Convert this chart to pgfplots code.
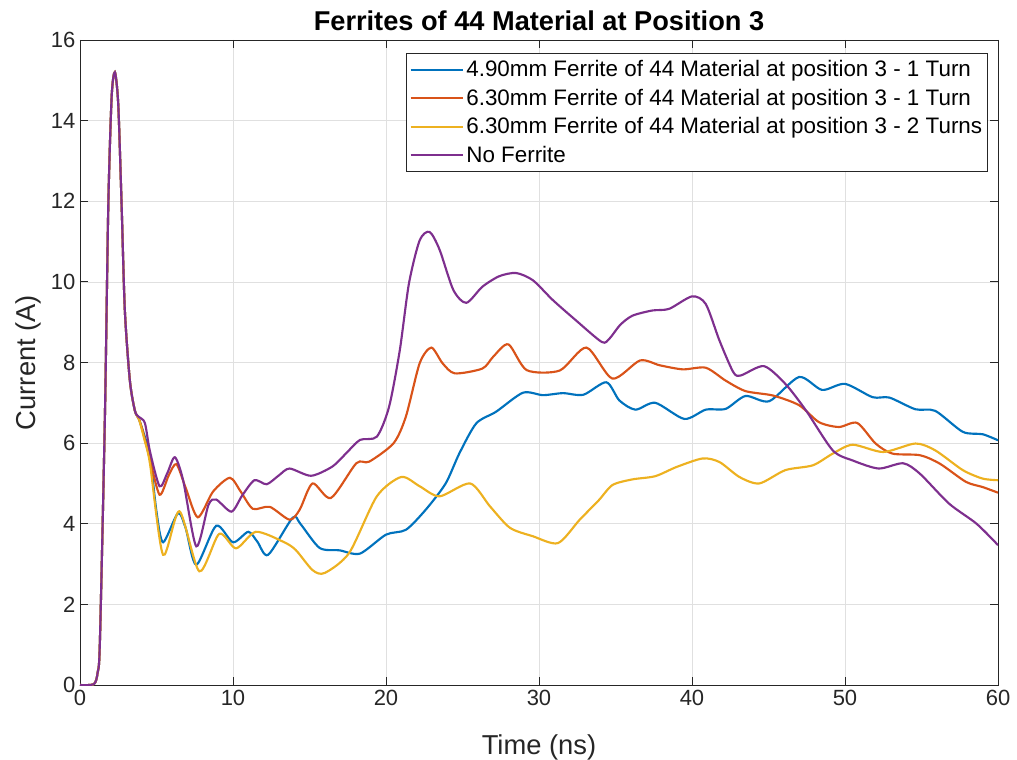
\documentclass[border=0pt]{standalone}
\usepackage{pgfplots}
\pgfplotsset{compat=1.18}
\usepackage{fontspec}
\setmainfont{Liberation Sans}
\definecolor{mblue}{rgb}{0,0.447,0.741}
\definecolor{morange}{rgb}{0.85,0.325,0.098}
\definecolor{myellow}{rgb}{0.929,0.694,0.125}
\definecolor{mpurple}{rgb}{0.494,0.184,0.556}
\definecolor{axgray}{gray}{0.15}
\begin{document}
\begin{tikzpicture}
\useasboundingbox (-60pt,-56.25pt) rectangle (702.75pt,513.75pt);
\begin{axis}[
  at={(0,0)}, anchor=south west,
  scale only axis, width=688.5pt, height=483.75pt,
  xmin=0, xmax=60, ymin=0, ymax=16,
  xtick={0,10,...,60}, ytick={0,2,...,16},
  grid=major, grid style={color=black!12, line width=0.5pt},
  axis line style={color=axgray, line width=0.6pt},
  tick style={color=axgray, line width=0.6pt},
  tick align=inside, major tick length=6pt,
  ticklabel style={font=\fontsize{16.5}{19}\selectfont, color=axgray},
  /pgf/number format/assume math mode=true,
  title={Ferrites of 44 Material at Position 3},
  title style={at={(axis description cs:0.5,1.003)}, anchor=base, font=\bfseries\fontsize{20.4}{24}\selectfont},
  xlabel={Time (ns)},
  xlabel style={at={(axis description cs:0.5,-0.1085)}, anchor=base, font=\fontsize{20.5}{24}\selectfont, color=axgray},
  ylabel={Current (A)},
  ylabel style={at={(axis description cs:-0.049,0.5)}, anchor=base, font=\fontsize{20.5}{24}\selectfont, color=axgray},
  legend style={at={(0.989,0.98)}, anchor=north east, draw=axgray, line width=0.6pt,
    font=\fontsize{16.8}{19}\selectfont, row sep=3.7pt, inner xsep=2pt, inner ysep=3.5pt},
  legend cell align=left,
  legend image code/.code={\draw[#1] plot coordinates {(0pt,0pt) (19.5pt,0pt) (39pt,0pt)};},
  every axis plot/.append style={line width=1.6pt, smooth, tension=0.45},
]
\addplot[mblue] coordinates {
(0,0) (0.9,0.02) (1.15,0.3) (1.3,1.07) (1.63,6.7) (1.85,11.9) (2.07,14.6) (2.28,15.2) (2.5,14.4) (2.72,11.9) (2.93,9.3) (3.26,7.55) (3.59,6.8) (3.85,6.6)
(4.2,6.2) (4.57,5.7) (5.0,4.3) (5.43,3.54) (6.4,4.26) (6.9,3.9) (7.6,2.98) (8.9,3.95) (10,3.54) (11,3.8) (11.6,3.55) (12.3,3.23) (13.9,4.15) (14.4,4.0)
(15.66,3.4) (16.97,3.34) (18.3,3.26) (20,3.73) (21.3,3.85) (22.6,4.35) (23.9,5.0) (24.8,5.75) (25.9,6.49) (27.2,6.78) (28.95,7.25) (30.26,7.19) (31.57,7.24) (32.9,7.2)
(34.4,7.51) (35.25,7.06) (36.3,6.83) (37.6,7.0) (39.5,6.6) (40.9,6.83) (42.2,6.85) (43.5,7.17) (45.05,7.04) (47,7.64) (48.5,7.32) (50,7.47) (51.8,7.14) (52.9,7.13)
(54.6,6.84) (55.9,6.8) (57.7,6.28) (59,6.22) (60,6.07)};
\addlegendentry{4.90mm Ferrite of 44 Material at position 3 - 1 Turn}
\addplot[morange] coordinates {
(0,0) (0.9,0.02) (1.15,0.3) (1.3,1.07) (1.63,6.7) (1.85,11.9) (2.07,14.6) (2.28,15.2) (2.5,14.4) (2.72,11.9) (2.93,9.3) (3.26,7.55) (3.59,6.8) (3.85,6.6)
(4.1,6.3) (4.57,5.6) (5.2,4.72) (5.8,5.2) (6.3,5.48) (6.9,4.9) (7.7,4.16) (8.7,4.8) (9.8,5.14) (10.5,4.8) (11.3,4.37) (12.4,4.42) (13.7,4.1) (14.36,4.35)
(15.2,5.0) (16.4,4.64) (18.06,5.5) (18.9,5.54) (20.5,6.0) (21.3,6.66) (22.2,7.98) (22.96,8.37) (23.7,7.98) (24.5,7.73) (26.3,7.85) (27,8.14) (28,8.45) (29.2,7.81)
(31.35,7.8) (33.1,8.37) (34.8,7.6) (36.6,8.05) (37.9,7.93) (39.4,7.83) (40.9,7.87) (42.2,7.55) (43.5,7.29) (45.3,7.18) (47,6.94) (48.3,6.52) (49.6,6.4) (50.8,6.5)
(52,5.99) (53.1,5.74) (54.9,5.7) (56.2,5.49) (57.9,5.04) (59,4.91) (60,4.77)};
\addlegendentry{6.30mm Ferrite of 44 Material at position 3 - 1 Turn}
\addplot[myellow] coordinates {
(0,0) (0.9,0.02) (1.15,0.3) (1.3,1.07) (1.63,6.7) (1.85,11.9) (2.07,14.6) (2.28,15.2) (2.5,14.4) (2.72,11.9) (2.93,9.3) (3.26,7.55) (3.59,6.8) (3.85,6.6)
(4.2,6.1) (4.57,5.5) (5.43,3.23) (6.5,4.31) (7.8,2.82) (9.1,3.75) (10.2,3.39) (11.5,3.8) (13.3,3.55) (14.1,3.35) (15.2,2.85) (16,2.78) (17.6,3.28) (19.4,4.68)
(21,5.16) (22.2,4.93) (23.5,4.68) (25.5,5.0) (26.8,4.43) (28.1,3.9) (29.6,3.69) (31.24,3.52) (32.66,4.1) (33.9,4.58) (34.8,4.96) (36.1,5.1) (37.6,5.18) (39,5.41)
(40.7,5.62) (41.8,5.53) (43.1,5.16) (44.4,5.0) (46.1,5.33) (47.9,5.45) (49.2,5.74) (50.5,5.96) (52.5,5.78) (54.6,5.99) (55.9,5.82) (57.7,5.33) (59,5.12) (60,5.08)};
\addlegendentry{6.30mm Ferrite of 44 Material at position 3 - 2 Turns}
\addplot[mpurple] coordinates {
(0,0) (0.9,0.02) (1.15,0.3) (1.3,1.07) (1.63,6.7) (1.85,11.9) (2.07,14.6) (2.28,15.2) (2.5,14.4) (2.72,11.9) (2.93,9.3) (3.26,7.55) (3.59,6.8) (3.85,6.65)
(4.24,6.5) (4.57,5.8) (5.2,4.93) (5.7,5.25) (6.2,5.65) (6.74,5.08) (7.6,3.44) (8.4,4.47) (8.9,4.6) (9.9,4.3) (10.6,4.7) (11.4,5.08) (12.2,4.98) (13.0,5.2)
(13.7,5.37) (15.1,5.19) (16.5,5.42) (17.4,5.75) (18.3,6.08) (19.4,6.16) (20.2,6.9) (20.9,8.3) (21.5,9.96) (22.2,11.03) (22.85,11.24) (23.5,10.8) (24.4,9.8)
(25.25,9.48) (26.3,9.88) (27.4,10.14) (28.5,10.22) (29.6,10.04) (30.9,9.55) (32.4,9.05) (34.1,8.51) (34.6,8.59) (35.3,8.93) (36.1,9.16) (37.4,9.29) (38.5,9.33)
(40,9.64) (40.9,9.45) (41.8,8.54) (42.7,7.76) (43.2,7.68) (44.7,7.91) (46.1,7.47) (47.45,6.81) (49.2,5.82) (50.5,5.57) (52.2,5.37) (53.8,5.5) (54.9,5.24)
(56.8,4.5) (58.6,4.0) (60,3.47)};
\addlegendentry{No Ferrite}
\end{axis}
\end{tikzpicture}
\end{document}
